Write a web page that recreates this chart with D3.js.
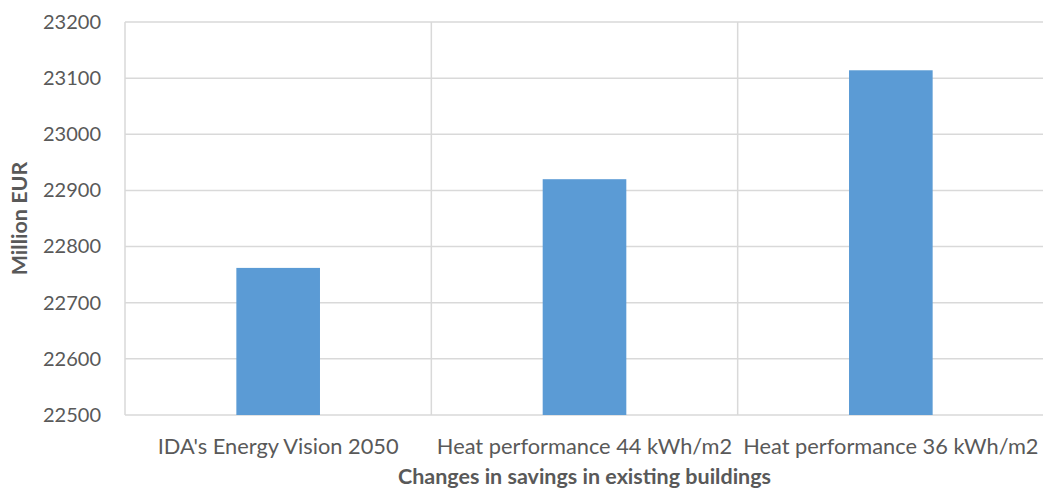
<!DOCTYPE html>
<html>
<head>
<meta charset="utf-8">
<script src="https://cdn.jsdelivr.net/npm/d3@7"></script>
<style>
  html, body { margin: 0; padding: 0; background: #fff; }
  svg { display: block; font-family: Lato, "Open Sans", sans-serif; }
</style>
</head>
<body>
<svg id="chart" width="1043" height="494"></svg>
<script>
const categories = ["IDA's Energy Vision 2050", "Heat performance 44 kWh/m2", "Heat performance 36 kWh/m2"];
const values = [22762, 22920, 23114];
const yTicks = [22500, 22600, 22700, 22800, 22900, 23000, 23100, 23200];
const xTitle = "Changes in savings in existing buildings";
const yTitle = "Million EUR";

const svg = d3.select("#chart");
const margin = { left: 125, right: -1, top: 22, bottom: 79 };
const W = 1043, H = 494;
const plotW = W - margin.left - margin.right;
const plotH = H - margin.top - margin.bottom;

const x = d3.scaleBand().domain(categories).range([margin.left, margin.left + plotW]).paddingInner(0).paddingOuter(0);
const y = d3.scaleLinear().domain([22500, 23200]).range([margin.top + plotH, margin.top]);

const grid = "#d9d9d9";
const textColor = "#595959";

// horizontal gridlines
svg.append("g").selectAll("line").data(yTicks).join("line")
  .attr("x1", margin.left).attr("x2", margin.left + plotW)
  .attr("y1", d => y(d)).attr("y2", d => y(d))
  .attr("stroke", grid).attr("stroke-width", 1.5);

// vertical gridlines at category boundaries
const bounds = categories.map(c => x(c)).concat([x(categories[categories.length - 1]) + x.bandwidth()]);
svg.append("g").selectAll("line").data(bounds).join("line")
  .attr("x1", d => d).attr("x2", d => d)
  .attr("y1", margin.top).attr("y2", margin.top + plotH)
  .attr("stroke", grid).attr("stroke-width", 1.5);

// bars
const barW = x.bandwidth() * 0.273;
svg.append("g").selectAll("rect").data(categories).join("rect")
  .attr("x", (c) => x(c) + (x.bandwidth() - barW) / 2)
  .attr("width", barW)
  .attr("y", (c, i) => y(values[i]))
  .attr("height", (c, i) => y(22500) - y(values[i]))
  .attr("fill", "#5b9bd5");

// y axis labels
const yAxis = d3.axisLeft(y).tickValues(yTicks).tickSize(0).tickPadding(24).tickFormat(d3.format("d"));
const gy = svg.append("g").attr("transform", `translate(${margin.left},0)`).call(yAxis);
gy.select(".domain").remove();
gy.selectAll("text").attr("fill", textColor).style("font-size", "20px").style("font-family", "Lato, sans-serif");

// x axis labels
const xAxis = d3.axisBottom(x).tickSize(0).tickPadding(24);
const gx = svg.append("g").attr("transform", `translate(0,${margin.top + plotH})`).call(xAxis);
gx.select(".domain").remove();
gx.selectAll("text").attr("fill", textColor).style("font-size", "21.8px").style("font-family", "Lato, sans-serif");

// titles
svg.append("text").attr("x", margin.left + plotW / 2).attr("y", 484)
  .attr("text-anchor", "middle").attr("fill", textColor)
  .style("font-size", "21.5px").style("font-weight", "bold").text(xTitle);

svg.append("text").attr("transform", `translate(27,${margin.top + plotH / 2}) rotate(-90)`)
  .attr("text-anchor", "middle").attr("fill", textColor)
  .style("font-size", "21.5px").style("font-weight", "bold").text(yTitle);
</script>
</body>
</html>
